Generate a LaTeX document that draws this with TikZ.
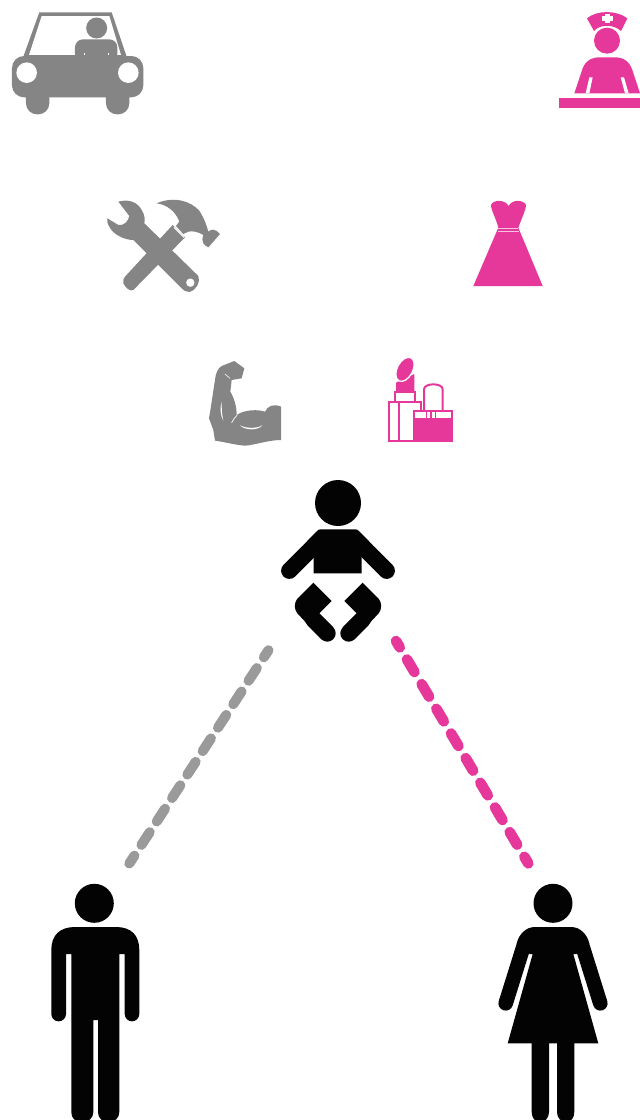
\documentclass[tikz,border=0pt]{standalone}
\definecolor{ink}{HTML}{030303}
\definecolor{carg}{HTML}{858585}
\definecolor{dashg}{HTML}{9A9A9A}
\definecolor{pnk}{HTML}{E6379B}
\tikzset{
  z/.style 2 args={shift={(#1pt,-#2pt)},x=.33333pt,y=-.33333pt},
  greylink/.style={draw=dashg,line width=10pt,line cap=round,dash pattern=on 15.2pt off 12.8pt,dash phase=6.7pt},
  pinklink/.style={draw=pnk,line width=10.6pt,line cap=round,dash pattern=on 14.6pt off 14.1pt,dash phase=7.2pt},
}
\begin{document}
\begin{tikzpicture}[x=1pt,y=-1pt]
\useasboundingbox (0,0) rectangle (640,1120);
\fill[white] (0,0) rectangle (640,1120);
% car
\begin{scope}[z={0}{0}]
\fill[carg,rounded corners=11pt] (78,250) -- (78,343) -- (148,343) -- (148,250) -- cycle;
\fill[carg,rounded corners=11pt] (318,250) -- (318,343) -- (388,343) -- (388,250) -- cycle;
\fill[carg,rounded corners=12pt] (36,168) rectangle (430,292);
\fill[carg] (70,170) -- (118,37) -- (335,37) -- (380,170) -- cycle;
\fill[white] (87,165) -- (125,48) -- (328,48) -- (363,165) -- cycle;
\fill[carg,rounded corners=8pt] (225,185) -- (225,118) -- (352,118) -- (352,185) -- cycle;
\fill[carg] (290,84) circle[radius=10.5pt];
\fill[carg] (80,165) rectangle (375,200);
\fill[white] (80,218) circle[radius=10.3pt];
\fill[white] (385,218) circle[radius=10.3pt];
\fill[white] (252,158) rectangle (256,164);
\fill[white] (324,158) rectangle (328,164);
\end{scope}
% nurse
\begin{scope}[z={550}{0}]
\fill[pnk] (111,55) .. controls (140,30) and (200,30) .. (232,55) -- (213,93) .. controls (190,72) and (150,72) .. (132,93) -- cycle;
\fill[white] (165,41) rectangle (180,70);
\fill[white] (155,49) rectangle (190,62);
\fill[pnk] (171,122) circle[radius=13pt];
\fill[pnk] (73,280) -- (98,205) .. controls (108,180) and (125,172) .. (150,172) -- (195,172) .. controls (222,172) and (238,185) .. (247,210) -- (270,280) -- cycle;
\fill[white] (118,232) -- (128,232) -- (118,280) -- (107,280) -- cycle;
\fill[white] (212,232) -- (222,232) -- (236,280) -- (225,280) -- cycle;
\fill[pnk] (27,294) rectangle (270,324);
\end{scope}
% tools
\begin{scope}[z={100}{190}]
\fill[carg] (55,35) .. controls (90,25) and (115,40) .. (125,60) .. controls (135,75) and (135,90) .. (133,100) -- (295,258) .. controls (302,275) and (290,300) .. (268,306) .. controls (258,305) and (250,302) .. (245,295) -- (100,150) .. controls (75,150) and (40,135) .. (28,110) .. controls (22,100) and (20,92) .. (22,85) -- (55,105) .. controls (70,108) and (85,95) .. (88,78) -- cycle;
\fill[white] (271,278) circle[radius=4.2pt];
\fill[carg] (218,105) -- (255,142) -- (100,300) .. controls (90,305) and (78,295) .. (70,280) .. controls (68,272) and (70,265) .. (75,260) -- cycle;
\fill[carg] (170,40) .. controls (215,20) and (270,28) .. (300,65) .. controls (312,85) and (320,105) .. (325,125) .. controls (335,116) and (345,116) .. (360,132) -- (325,172) .. controls (310,165) and (303,155) .. (310,135) .. controls (295,125) and (275,122) .. (265,125) -- (250,132) -- (228,108) -- (238,94) .. controls (225,62) and (200,44) .. (170,40) -- cycle;
\draw[white,line width=1.1pt] (222,112) -- (252,142);
\end{scope}
% dress
\begin{scope}[z={460}{190}]
\fill[pnk] (93,45) .. controls (100,28) and (135,28) .. (146,48) .. controls (155,28) and (190,28) .. (198,45) .. controls (198,58) and (185,85) .. (175,113) -- (248,288) -- (40,288) -- (115,113) .. controls (108,85) and (93,60) .. (93,45) -- cycle;
\draw[white!70!pnk,line width=.6pt] (115,115) -- (175,115) (114,124) -- (178,124);
\end{scope}
% biceps
\begin{scope}[z={195}{350}]
\fill[carg] (42,205) .. controls (50,160) and (55,120) .. (60,90) .. controls (62,70) and (68,55) .. (80,48) -- (118,33) -- (148,55) -- (140,85) -- (110,90) -- (106,125) .. controls (118,145) and (125,170) .. (125,195) .. controls (150,178) and (190,178) .. (210,185) .. controls (218,168) and (235,160) .. (258,170) -- (258,270) .. controls (220,270) and (180,285) .. (150,287) .. controls (120,285) and (85,275) .. (60,272) -- (55,240) -- cycle;
\draw[white,line width=.7pt,line cap=round] (110,218) .. controls (115,208) and (120,202) .. (126,196);
\fill[white] (135,226) .. controls (155,236) and (185,236) .. (202,226) .. controls (190,242) and (150,242) .. (135,226) -- cycle;
\fill[white] (80,155) .. controls (74,175) and (76,195) .. (85,212) .. controls (80,190) and (80,175) .. (80,155) -- cycle;
\draw[white,line width=.6pt] (90,72) -- (105,85);
\end{scope}
% lipstick
\begin{scope}[z={375}{350}]
\fill[pnk] (63,98) -- (118,72) -- (118,126) -- (63,126) -- cycle;
\fill[pnk,draw=white,line width=1.3pt,rotate around={-28:(90,58)}] (90,58) ellipse[x radius=7.8pt,y radius=13pt];
\draw[pnk,line width=2pt] (60,127) rectangle (120,155);
\draw[pnk,line width=2pt,fill=white] (42,155) rectangle (137,273);
\draw[pnk,line width=2pt] (72,155) -- (72,273);
\draw[pnk,line width=2pt] (147,182) -- (147,118) .. controls (147,98) and (203,98) .. (203,118) -- (203,182);
\fill[white] (117,182) rectangle (233,274);
\draw[pnk,line width=2pt] (117,183) rectangle (232,274);
\fill[pnk] (117,205) rectangle (233,275);
\draw[pnk,line width=1.4pt] (154,182) -- (154,205) (168,182) -- (168,205) (181,182) -- (181,205);
\end{scope}
% baby
\fill[ink] (338,503) circle[radius=23];
\begin{scope}[z={270}{470}]
\fill[ink] (131,310) -- (131,240) -- (100,225) -- (140,184) .. controls (145,179) and (148,178) .. (152,178) -- (256,178) .. controls (260,178) and (263,179) .. (268,184) -- (308,225) -- (275,240) -- (275,310) -- cycle;
\draw[ink,line width=16.5pt,line cap=round] (58,302) -- (115,245);
\draw[ink,line width=16.5pt,line cap=round] (350,302) -- (293,245);
\foreach \m/\s in {0/1,408/-1}{
 \begin{scope}[shift={(\m,0)},x=\s*.33333pt]
  \fill[ink] (130,338) -- (185,393) -- (148,430) -- (190,472) -- (155,508) -- (82,430) .. controls (72,418) and (72,398) .. (82,386) -- cycle;
  \draw[ink,line width=16.7pt,line cap=round] (172,490) -- (130,448);
 \end{scope}}
\end{scope}
% man
\fill[ink] (94.3,903.3) circle[radius=19.5];
\fill[ink] (51.3,1014) -- (51.3,950) .. controls (51.3,935) and (60,927) .. (75,927) -- (116,927) .. controls (131,927) and (139.3,935) .. (139.3,950) -- (139.3,1014) arc[start angle=0,end angle=180,radius=7.3] -- (124.7,954) -- (119.3,954) -- (119.3,1112) .. controls (119.3,1118) and (115,1122) .. (108.5,1122) .. controls (102,1122) and (98,1118) .. (98,1112) -- (98,1020) -- (93.3,1020) -- (93.3,1112) .. controls (93.3,1118) and (89,1122) .. (82,1122) .. controls (75,1122) and (71.3,1118) .. (71.3,1112) -- (71.3,954) -- (66,954) -- (66,1014) arc[start angle=0,end angle=180,radius=7.35] -- cycle;
% woman
\fill[ink] (553,903.3) circle[radius=19.5];
\fill[ink] (516.7,943.3) .. controls (519,934) and (526,927) .. (535,927) -- (571,927) .. controls (580,927) and (587,934) .. (589.3,943.3) -- (576.3,954) -- (573.3,954) -- (598.3,1043.3) -- (507.7,1043.3) -- (532.7,954) -- (529.7,954) -- cycle;
\draw[ink,line width=14.6pt,line cap=round] (505.7,1003.3) -- (523.7,945.7);
\draw[ink,line width=14.6pt,line cap=round] (600.3,1003.3) -- (582.3,945.7);
\fill[ink] (531.7,1040) -- (549,1040) -- (549,1112) .. controls (549,1118) and (545,1122) .. (540.3,1122) .. controls (535,1122) and (531.7,1118) .. (531.7,1112) -- cycle;
\fill[ink] (557,1040) -- (574.3,1040) -- (574.3,1112) .. controls (574.3,1118) and (571,1122) .. (565.7,1122) .. controls (561,1122) and (557,1118) .. (557,1112) -- cycle;
% links
\coordinate (babyL) at (268.5,650.2);
\coordinate (fatherEnd) at (129.3,863.5);
\coordinate (babyR) at (396,641);
\coordinate (motherEnd) at (528.3,863.4);
\draw[greylink] (babyL) -- (fatherEnd);
\draw[pinklink] (babyR) -- (motherEnd);
\end{tikzpicture}
\end{document}
